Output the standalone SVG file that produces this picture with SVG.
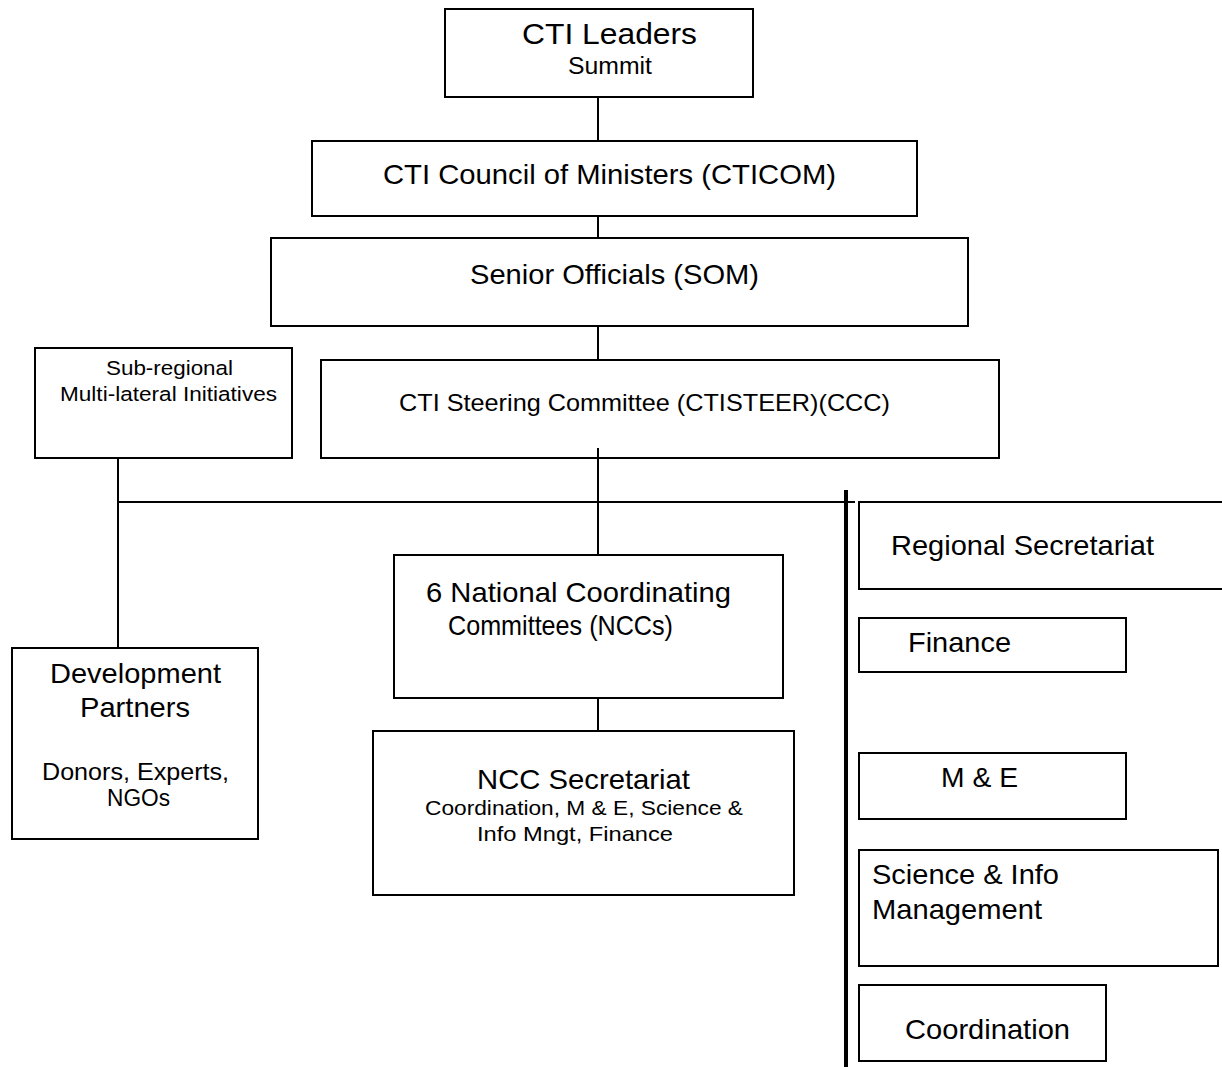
<svg xmlns="http://www.w3.org/2000/svg" width="1222" height="1067" viewBox="0 0 1222 1067">
<style>
rect.box{fill:#fff;stroke:#000;stroke-width:2}
.c line{stroke:#000;stroke-width:2}
text{font-family:"Liberation Sans",Arial,sans-serif;fill:#000}
</style>
<rect width="1222" height="1067" fill="#fff"/>
<g id="leaders"><rect class="box" x="445" y="9" width="308" height="88"/>
<text x="522" y="44" font-size="30" textLength="175" lengthAdjust="spacingAndGlyphs">CTI Leaders</text>
<text x="568" y="74" font-size="23" textLength="84" lengthAdjust="spacingAndGlyphs">Summit</text></g>
<g id="cticom"><rect class="box" x="312" y="141" width="605" height="75"/>
<text x="383" y="184" font-size="28" textLength="453" lengthAdjust="spacingAndGlyphs">CTI Council of Ministers (CTICOM)</text></g>
<g id="som"><rect class="box" x="271" y="238" width="697" height="88"/>
<text x="470" y="284" font-size="28" textLength="289" lengthAdjust="spacingAndGlyphs">Senior Officials (SOM)</text></g>
<g id="subregional"><rect class="box" x="35" y="348" width="257" height="110"/>
<text x="106" y="375" font-size="20.5" textLength="127" lengthAdjust="spacingAndGlyphs">Sub-regional</text>
<text x="60" y="401" font-size="20.5" textLength="217" lengthAdjust="spacingAndGlyphs">Multi-lateral Initiatives</text></g>
<g id="ctisteer"><rect class="box" x="321" y="360" width="678" height="98"/>
<text x="399" y="411" font-size="24" textLength="491" lengthAdjust="spacingAndGlyphs">CTI Steering Committee (CTISTEER)(CCC)</text></g>
<g id="devpartners"><rect class="box" x="12" y="648" width="246" height="191"/>
<text x="50" y="683" font-size="28" textLength="171" lengthAdjust="spacingAndGlyphs">Development</text>
<text x="80" y="717" font-size="28" textLength="110" lengthAdjust="spacingAndGlyphs">Partners</text>
<text x="42" y="780" font-size="23.5" textLength="187" lengthAdjust="spacingAndGlyphs">Donors, Experts,</text>
<text x="107" y="806" font-size="23.5" textLength="63" lengthAdjust="spacingAndGlyphs">NGOs</text></g>
<g id="nccs"><rect class="box" x="394" y="555" width="389" height="143"/>
<text x="426" y="602" font-size="28" textLength="305" lengthAdjust="spacingAndGlyphs">6 National Coordinating</text>
<text x="448" y="635" font-size="28" textLength="225" lengthAdjust="spacingAndGlyphs">Committees (NCCs)</text></g>
<g id="nccsec"><rect class="box" x="373" y="731" width="421" height="164"/>
<text x="477" y="789" font-size="28" textLength="213" lengthAdjust="spacingAndGlyphs">NCC Secretariat</text>
<text x="425" y="815" font-size="21" textLength="318" lengthAdjust="spacingAndGlyphs">Coordination, M &amp; E, Science &amp;</text>
<text x="477" y="841" font-size="21" textLength="196" lengthAdjust="spacingAndGlyphs">Info Mngt, Finance</text></g>
<g id="regsec"><rect class="box" x="859" y="502" width="380" height="87"/>
<text x="891" y="555" font-size="28" textLength="263" lengthAdjust="spacingAndGlyphs">Regional Secretariat</text></g>
<g id="finance"><rect class="box" x="859" y="618" width="267" height="54"/>
<text x="908" y="652" font-size="28" textLength="103" lengthAdjust="spacingAndGlyphs">Finance</text></g>
<g id="me"><rect class="box" x="859" y="753" width="267" height="66"/>
<text x="941" y="787" font-size="28" textLength="77" lengthAdjust="spacingAndGlyphs">M &amp; E</text></g>
<g id="science"><rect class="box" x="859" y="850" width="359" height="116"/>
<text x="872" y="884" font-size="28" textLength="187" lengthAdjust="spacingAndGlyphs">Science &amp; Info</text>
<text x="872" y="919" font-size="28" textLength="170" lengthAdjust="spacingAndGlyphs">Management</text></g>
<g id="coordination"><rect class="box" x="859" y="985" width="247" height="76"/>
<text x="905" y="1039" font-size="28" textLength="165" lengthAdjust="spacingAndGlyphs">Coordination</text></g>
<g class="c" id="connectors">
<line x1="598" y1="97" x2="598" y2="141"/>
<line x1="598" y1="216" x2="598" y2="238"/>
<line x1="598" y1="326" x2="598" y2="360"/>
<line x1="598" y1="448" x2="598" y2="555"/>
<line x1="118" y1="458" x2="118" y2="648"/>
<line x1="118" y1="502" x2="855" y2="502"/>
<line x1="598" y1="698" x2="598" y2="731"/>
<line x1="846" y1="490" x2="846" y2="1067" style="stroke-width:4"/>
</g>
</svg>
